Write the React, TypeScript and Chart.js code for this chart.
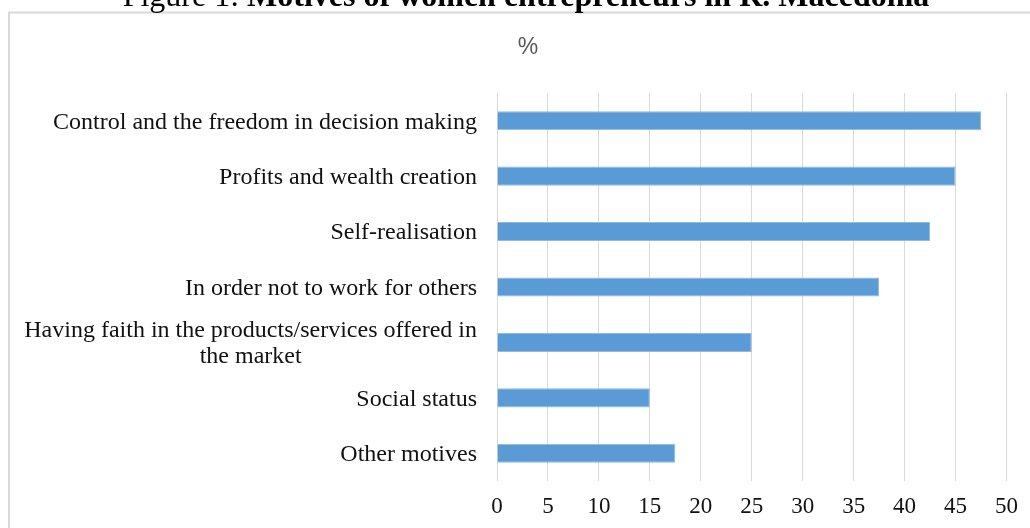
import React, { useEffect, useRef } from "react";
import { Chart, registerables } from "chart.js";

Chart.register(...registerables);

const titlePrefix = "Figure 1: ";
const titleMain = "Motives of women entrepreneurs in R. Macedonia";
const unitLabel = "%";

const categories: (string | string[])[] = [
  "Control and the freedom in decision making",
  "Profits and wealth creation",
  "Self-realisation",
  "In order not to work for others",
  ["Having faith in the products/services offered in", "the market"],
  "Social status",
  "Other motives",
];

const values = [47.5, 45, 42.5, 37.5, 25, 15, 17.5];

const xMin = 0;
const xMax = 50;
const xStep = 5;

const serif = "'Liberation Serif', 'Times New Roman', serif";

const decorPlugin = {
  id: "decor",
  beforeDraw(chart: any) {
    const ctx = chart.ctx;
    ctx.save();
    // frame
    ctx.strokeStyle = "#d9d9d9";
    ctx.lineWidth = 2;
    ctx.beginPath();
    ctx.moveTo(9, chart.height + 5);
    ctx.lineTo(9, 12.5);
    ctx.lineTo(chart.width + 5, 12.5);
    ctx.stroke();

    // title (clipped at top)
    ctx.fillStyle = "#000";
    ctx.textBaseline = "alphabetic";
    ctx.textAlign = "left";
    const fs = 32;
    ctx.font = `normal ${fs}px ${serif}`;
    const w1 = ctx.measureText(titlePrefix).width;
    ctx.font = `bold ${fs}px ${serif}`;
    const w2 = ctx.measureText(titleMain).width;
    const cx = 526;
    const startX = cx - (w1 + w2) / 2;
    const baseY = 6;
    ctx.font = `normal ${fs}px ${serif}`;
    ctx.fillText(titlePrefix, startX, baseY);
    ctx.font = `bold ${fs}px ${serif}`;
    ctx.fillText(titleMain, startX + w1, baseY);

    // unit label
    ctx.font = `23px 'Liberation Sans', Arial, sans-serif`;
    ctx.fillStyle = "#595959";
    ctx.textAlign = "center";
    ctx.textBaseline = "middle";
    ctx.fillText(unitLabel, 528, 48);
    ctx.restore();
  },
  afterDraw(chart: any) {
    const ctx = chart.ctx;
    const yScale = chart.scales.y;
    ctx.save();
    ctx.fillStyle = "#111";
    ctx.font = `24px ${serif}`;
    ctx.textBaseline = "middle";
    const rightX = 477;
    const lineH = 26;
    categories.forEach((lab, i) => {
      const y = yScale.getPixelForTick(i) + 1.5;
      if (Array.isArray(lab)) {
        const w = ctx.measureText(lab[0]).width;
        const center = rightX - w / 2;
        ctx.textAlign = "center";
        lab.forEach((line, j) => {
          ctx.fillText(line, center, y + (j - (lab.length - 1) / 2) * lineH);
        });
      } else {
        ctx.textAlign = "right";
        ctx.fillText(lab, rightX, y);
      }
    });
    ctx.restore();
  },
};

export default function App() {
  const ref = useRef<HTMLCanvasElement | null>(null);

  useEffect(() => {
    if (!ref.current) return;
    const chart = new Chart(ref.current, {
      type: "bar",
      data: {
        labels: categories.map((c) => (Array.isArray(c) ? c.join(" ") : c)),
        datasets: [
          {
            data: values,
            backgroundColor: "#5B9BD5",
            borderColor: "#8fbbe3",
            borderWidth: 1,
            categoryPercentage: 0.8,
            barPercentage: 0.43,
          },
        ],
      },
      options: {
        indexAxis: "y",
        animation: false,
        responsive: true,
        maintainAspectRatio: false,
        layout: { padding: { left: 497, right: 23, top: 93, bottom: 0 } },
        plugins: {
          legend: { display: false },
          tooltip: { enabled: false },
          title: { display: false },
        },
        scales: {
          x: {
            min: xMin,
            max: xMax,
            afterFit: (scale: any) => {
              scale.height = 47;
            },
            ticks: {
              stepSize: xStep,
              color: "#111",
              font: { family: serif, size: 23 },
              padding: 12,
            },
            grid: { color: "#d9d9d9", drawTicks: false },
            border: { display: false },
          },
          y: {
            display: false,
          },
        },
      },
      plugins: [decorPlugin],
    });
    return () => chart.destroy();
  }, []);

  return (
    <div style={{ position: "absolute", left: 0, top: 0, width: 1030, height: 528, background: "#fff" }}>
      <canvas ref={ref} />
    </div>
  );
}
